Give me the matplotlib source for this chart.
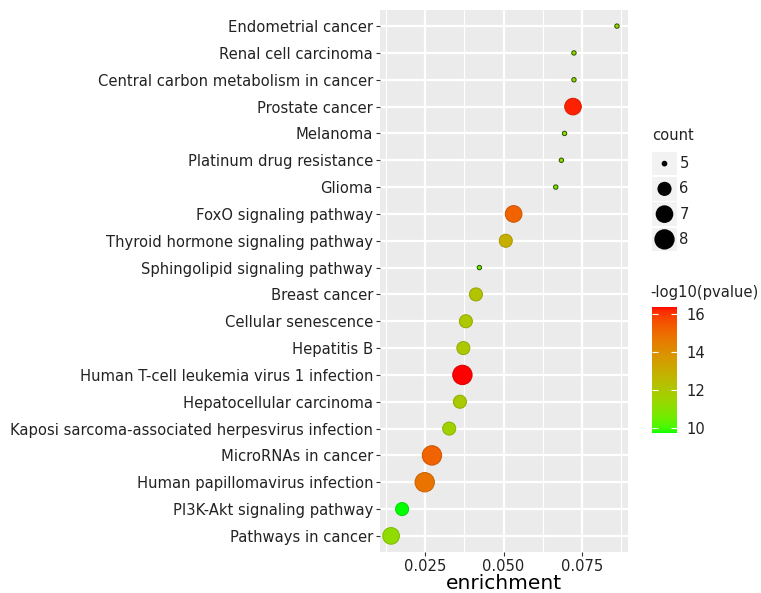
import numpy as np
import matplotlib
matplotlib.use("Agg")
import matplotlib.pyplot as plt
from matplotlib.colors import ListedColormap, Normalize
from matplotlib.colorbar import ColorbarBase

# data (bottom to top, as drawn)
pathways = ["Pathways in cancer", "PI3K-Akt signaling pathway", "Human papillomavirus infection",
            "MicroRNAs in cancer", "Kaposi sarcoma-associated herpesvirus infection",
            "Hepatocellular carcinoma", "Human T-cell leukemia virus 1 infection", "Hepatitis B",
            "Cellular senescence", "Breast cancer", "Sphingolipid signaling pathway",
            "Thyroid hormone signaling pathway", "FoxO signaling pathway", "Glioma",
            "Platinum drug resistance", "Melanoma", "Prostate cancer",
            "Central carbon metabolism in cancer", "Renal cell carcinoma", "Endometrial cancer"]
enrichment = [0.0142, 0.0177, 0.0249, 0.0272, 0.0327, 0.0361, 0.0369, 0.0372, 0.0380, 0.0412,
              0.0423, 0.0507, 0.0532, 0.0666, 0.0684, 0.0694, 0.0721, 0.0724, 0.0724, 0.0861]
count = [7, 6, 8, 8, 6, 6, 8, 6, 6, 6, 5, 6, 7, 5, 5, 5, 7, 5, 5, 5]
logp = [11.2, 9.74, 14.8, 15.2, 11.6, 11.9, 16.37, 12.0, 12.0, 12.2,
        10.5, 12.9, 15.2, 10.7, 11.0, 11.0, 16.2, 11.2, 11.2, 11.2]
count_levels = [5, 6, 7, 8]
cbar_ticks = [10, 12, 14, 16]

FS = 10.6


def srgb_to_lab(rgb):
    rgb = np.asarray(rgb, dtype=float)
    lin = np.where(rgb <= 0.04045, rgb / 12.92, ((rgb + 0.055) / 1.055) ** 2.4)
    m = np.array([[0.4124, 0.3576, 0.1805], [0.2126, 0.7152, 0.0722], [0.0193, 0.1192, 0.9505]])
    xyz = m @ lin / np.array([0.95047, 1.0, 1.08883])
    f = np.where(xyz > 0.008856, np.cbrt(xyz), 7.787 * xyz + 16 / 116)
    return np.array([116 * f[1] - 16, 500 * (f[0] - f[1]), 200 * (f[1] - f[2])])


def lab_to_srgb(lab):
    fy = (lab[0] + 16) / 116
    fx = fy + lab[1] / 500
    fz = fy - lab[2] / 200
    f = np.array([fx, fy, fz])
    xyz = np.where(f > 0.206893, f ** 3, (f - 16 / 116) / 7.787) * np.array([0.95047, 1.0, 1.08883])
    m = np.array([[3.2406, -1.5372, -0.4986], [-0.9689, 1.8758, 0.0415], [0.0557, -0.2040, 1.0570]])
    lin = np.clip(m @ xyz, 0, 1)
    return np.where(lin <= 0.0031308, 12.92 * lin, 1.055 * lin ** (1 / 2.4) - 0.055)


# green -> red gradient interpolated in Lab like ggplot
lab_lo = srgb_to_lab([0, 1, 0])
lab_hi = srgb_to_lab([1, 0, 0])
ramp = [np.clip(lab_to_srgb(lab_lo + t * (lab_hi - lab_lo)), 0, 1) for t in np.linspace(0, 1, 256)]
cmap = ListedColormap(ramp)
norm = Normalize(vmin=min(logp), vmax=max(logp))


def size_of(c):
    # ggplot area scale, range 1..6
    d_px = 4.4 + 3.0 * 5 * np.sqrt((np.asarray(c, float) - 5) / 3)
    return (d_px * 0.72) ** 2


W, H = 761, 593
fig = plt.figure(figsize=(W / 100, H / 100), dpi=100)
ax = fig.add_axes([380 / W, 1 - 552 / H, 248 / W, 542 / H])
ax.set_facecolor("#EBEBEB")

ypos = np.arange(1, len(pathways) + 1)
cols = cmap(norm(np.array(logp)))
edges = cols.copy()
small = np.array(count) == 5
edges[:, :3] = np.where(small[:, None], edges[:, :3] * 0.35, edges[:, :3] * 0.85)
ax.scatter(enrichment, ypos, s=size_of(count), c=cols, edgecolors=edges, linewidths=0.7, zorder=3)

ax.set_xlim(0.01067, 0.0896)
ax.set_ylim(0.4, len(pathways) + 0.6)
ax.set_xticks([0.025, 0.050, 0.075])
ax.set_xticklabels(["0.025", "0.050", "0.075"])
ax.set_xticks([0.0125, 0.0375, 0.0625, 0.0875], minor=True)
ax.set_yticks(ypos)
ax.set_yticklabels(pathways)
ax.grid(True, which="major", color="white", linewidth=1.6)
ax.grid(True, which="minor", axis="x", color="white", linewidth=0.8)
ax.set_axisbelow(True)
for sp in ax.spines.values():
    sp.set_visible(False)
ax.tick_params(axis="both", which="major", length=3, width=0.8, color="#333333",
               labelsize=FS, labelcolor="#222222", pad=2)
ax.tick_params(axis="both", which="minor", length=0)
ax.set_xlabel("enrichment", fontsize=14.5, color="black", labelpad=0)

# count legend
fig.text(652 / W, 1 - 136 / H, "count", fontsize=FS, color="#222222", va="center")
lax = fig.add_axes([652 / W, 1 - 252 / H, 25 / W, 101 / H])
lidx = np.arange(len(count_levels))[::-1]
lax.barh(lidx, 1, left=-0.5, height=0.94, color="#F2F2F2", zorder=1)
lax.scatter(np.zeros(len(count_levels)), lidx, s=size_of(count_levels) * 0.95, c="black", zorder=2)
lax.set_xlim(-0.5, 0.5)
lax.set_ylim(-0.5, len(count_levels) - 0.5)
lax.axis("off")
for i, lv in zip(lidx, count_levels):
    lax.text(1.1, i, str(lv), transform=lax.get_yaxis_transform(), fontsize=FS,
             color="#222222", va="center")

# colour bar
fig.text(650 / W, 1 - 293 / H, "-log10(pvalue)", fontsize=FS, color="#222222", va="center")
cax = fig.add_axes([652 / W, 1 - 433 / H, 25 / W, 126 / H])
cb = ColorbarBase(cax, cmap=cmap, norm=norm, ticks=cbar_ticks)
cb.outline.set_visible(False)
cax.tick_params(axis="y", direction="in", length=4, width=0.8, color="white",
                left=True, right=True, labelsize=FS, labelcolor="#222222", pad=7)

fig.savefig("out.png", dpi=100)
